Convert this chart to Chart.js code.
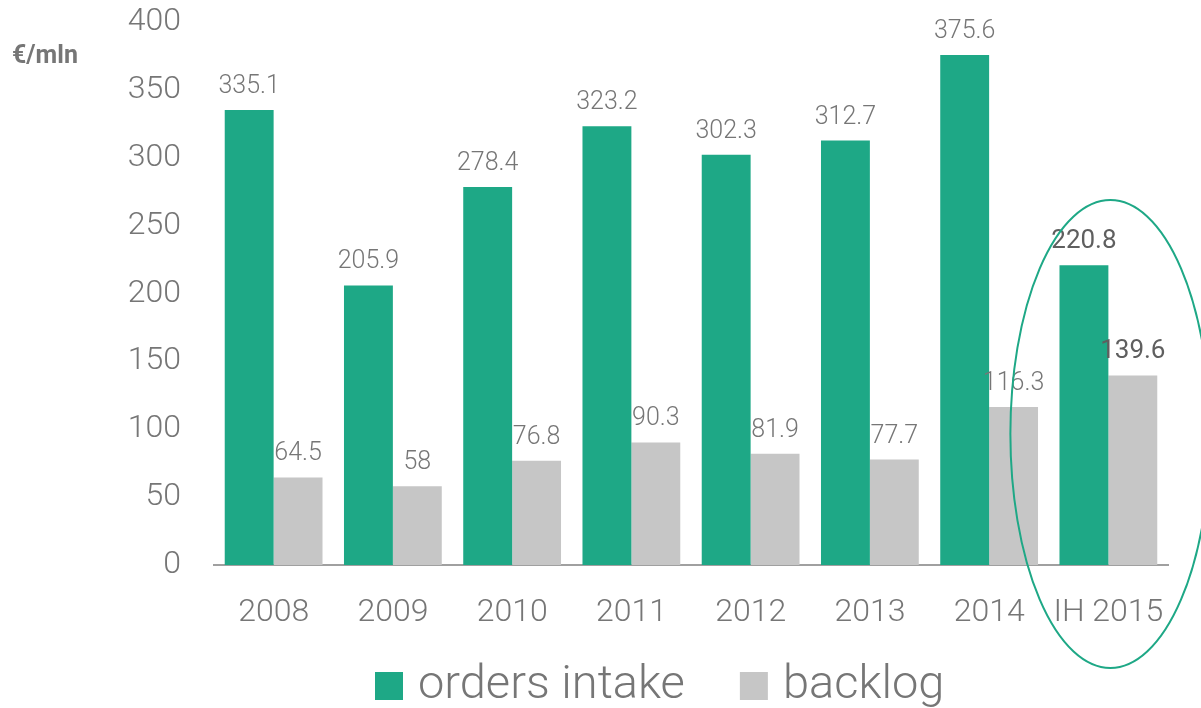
<!DOCTYPE html>
<html>
<head>
<meta charset="utf-8">
<script src="https://cdn.jsdelivr.net/npm/chart.js@4/dist/chart.umd.min.js"></script>
<style>
  html, body { margin: 0; padding: 0; background: #fff; }
  #wrap { width: 1201px; height: 708px; position: relative; }
</style>
</head>
<body>
<div id="wrap"><canvas id="orders-chart"></canvas></div>
<script>
// Chart data
const years = ['2008', '2009', '2010', '2011', '2012', '2013', '2014', 'IH 2015'];
const ordersIntake = [335.1, 205.9, 278.4, 323.2, 302.3, 312.7, 375.6, 220.8];
const backlog = [64.5, 58, 76.8, 90.3, 81.9, 77.7, 116.3, 139.6];
const seriesNames = ['orders intake', 'backlog'];
const seriesColors = ['#1ea886', '#c6c6c6'];
const yTicks = [0, 50, 100, 150, 200, 250, 300, 350, 400];

const textColor = '#767676';
const fontName = 'Roboto';

// value labels above every bar, the last period is highlighted
const valueLabels = {
    id: 'valueLabels',
    afterDatasetsDraw(chart) {
        const ctx = chart.ctx;
        ctx.save();
        ctx.textAlign = 'center';
        ctx.textBaseline = 'alphabetic';
        chart.data.datasets.forEach((ds, i) => {
            const meta = chart.getDatasetMeta(i);
            meta.data.forEach((bar, j) => {
                const last = j === ds.data.length - 1;
                ctx.fillStyle = last ? '#5f5f5f' : textColor;
                ctx.font = (last ? '400 26px ' : '300 25px ') + fontName;
                ctx.fillText(String(ds.data[j]), bar.x, bar.y - 17);
            });
        });
        ctx.restore();
    }
};

// unit label, ellipse round the last period and the legend
const extras = {
    id: 'extras',
    afterDraw(chart) {
        const ctx = chart.ctx;
        const area = chart.chartArea;
        const x = chart.scales.x;
        ctx.save();

        // unit
        ctx.fillStyle = textColor;
        ctx.font = 'bold 25px ' + fontName;
        ctx.textAlign = 'left';
        ctx.textBaseline = 'alphabetic';
        ctx.fillText('€/mln', 12, 63);

        // ellipse highlighting the half year
        const cx = x.getPixelForValue(years.length - 1) + 2;
        ctx.strokeStyle = seriesColors[0];
        ctx.lineWidth = 2;
        ctx.beginPath();
        ctx.ellipse(cx, area.bottom - 131, 100, 234, 0, 0, Math.PI * 2);
        ctx.stroke();

        // legend
        ctx.font = '300 47px ' + fontName;
        ctx.textBaseline = 'middle';
        let lx = 375;
        const ly = 686;
        chart.data.datasets.forEach(ds => {
            ctx.fillStyle = ds.backgroundColor;
            ctx.fillRect(lx, ly - 14, 28, 28);
            lx += 28 + 15;
            ctx.fillStyle = textColor;
            ctx.fillText(ds.label, lx, ly);
            lx += ctx.measureText(ds.label).width + 55;
        });
        ctx.restore();
    }
};

const ctx = document.getElementById('orders-chart').getContext('2d');
new Chart(ctx, {
    type: 'bar',
    data: {
        labels: years,
        datasets: [
            { label: seriesNames[0], data: ordersIntake, backgroundColor: seriesColors[0] },
            { label: seriesNames[1], data: backlog, backgroundColor: seriesColors[1] }
        ]
    },
    options: {
        responsive: true,
        maintainAspectRatio: false,
        animation: false,
        layout: { padding: { top: 22, right: 33, left: 0, bottom: 0 } },
        datasets: { bar: { categoryPercentage: 0.82, barPercentage: 1 } },
        scales: {
            x: {
                grid: { display: false, drawTicks: false },
                border: { display: true, color: '#a0a0a0', width: 2 },
                ticks: { color: textColor, padding: 29, font: { family: fontName, size: 32, weight: 300 } },
                afterFit(scale) { scale.height = 143; }
            },
            y: {
                min: 0,
                max: 400,
                grid: { display: false, drawTicks: false },
                border: { display: false },
                afterBuildTicks(scale) { scale.ticks = yTicks.map(v => ({ value: v })); },
                ticks: { color: textColor, padding: 33, font: { family: fontName, size: 32, weight: 300 } },
                afterFit(scale) {
                    scale.width = 214;
                    scale.paddingTop = 0;
                    scale.paddingBottom = 0;
                }
            }
        },
        plugins: {
            legend: { display: false },
            tooltip: { enabled: false }
        }
    },
    plugins: [valueLabels, extras]
});
</script>
</body>
</html>
